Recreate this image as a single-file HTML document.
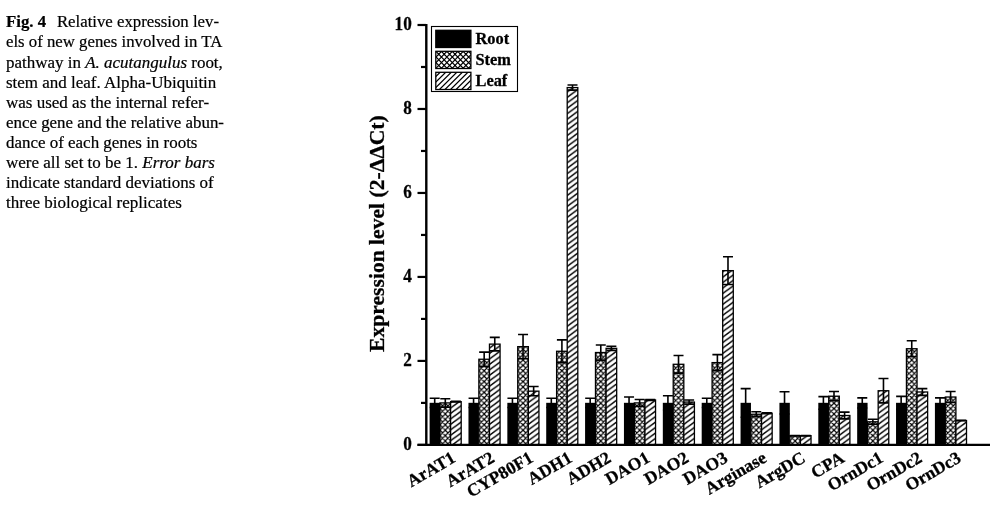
<!DOCTYPE html>
<html><head><meta charset="utf-8"><title>Fig. 4</title>
<style>
html,body{margin:0;padding:0;background:#fff}
body{width:1002px;height:522px;position:relative;overflow:hidden;font-family:"Liberation Serif",serif;color:#000;-webkit-text-stroke:0.2px #000}
.l{position:absolute;left:6.4px;white-space:nowrap;font-size:15.7px;line-height:20px;height:20px;transform-origin:0 0}
.gap{display:inline-block;width:10.15px}
svg text{font-family:"Liberation Serif",serif;font-weight:bold;fill:#000;stroke:#000;stroke-width:0.3px}
.t16{font-size:16.35px}
.t17{font-size:17.6px}
.t18{font-size:18.7px}
.t20{font-size:21.6px}
</style></head><body>
<div class="l" style="top:12.40px;transform:scaleX(1.0691)"><b>Fig. 4</b><span class="gap"></span>Relative expression lev-</div><div class="l" style="top:32.45px;transform:scaleX(1.0688)">els of new genes involved in TA</div><div class="l" style="top:52.50px;transform:scaleX(1.0817)">pathway in <i>A. acutangulus</i> root,</div><div class="l" style="top:72.55px;transform:scaleX(1.0823)">stem and leaf. Alpha-Ubiquitin</div><div class="l" style="top:92.60px;transform:scaleX(1.0836)">was used as the internal refer-</div><div class="l" style="top:112.65px;transform:scaleX(1.0764)">ence gene and the relative abun-</div><div class="l" style="top:132.70px;transform:scaleX(1.0799)">dance of each genes in roots</div><div class="l" style="top:152.75px;transform:scaleX(1.0829)">were all set to be 1. <i>Error bars</i></div><div class="l" style="top:172.80px;transform:scaleX(1.0809)">indicate standard deviations of</div><div class="l" style="top:192.85px;transform:scaleX(1.0852)">three biological replicates</div>
<svg width="1002" height="522" viewBox="0 0 1002 522" style="position:absolute;left:0;top:0;filter:blur(0.3px)">
<defs>
<pattern id="xh" patternUnits="userSpaceOnUse" x="5.3" y="-3.9" width="5.4" height="5.4"><rect width="5.4" height="5.4" fill="#fff"/><path d="M-10.80,10.80 L5.40,-5.40 M-10.80,-5.40 L5.40,10.80 M-5.40,10.80 L10.80,-5.40 M-5.40,-5.40 L10.80,10.80 M0.00,10.80 L16.20,-5.40 M0.00,-5.40 L16.20,10.80" stroke="#000" stroke-width="1.2" fill="none"/></pattern>
<pattern id="dh" patternUnits="userSpaceOnUse" x="0.65" y="0.8" width="7.4" height="5.45"><rect width="7.4" height="5.45" fill="#fff"/><path d="M-14.80,10.90 L7.40,-5.45 M-7.40,10.90 L14.80,-5.45 M0.00,10.90 L22.20,-5.45" stroke="#000" stroke-width="1.4" fill="none"/></pattern>
</defs>
<rect x="429.60" y="402.81" width="10.40" height="42.09" fill="#000"/>
<g transform="translate(440.00,444.9)"><rect x="0" y="-41.99" width="10.60" height="41.99" fill="url(#xh)" stroke="#000" stroke-width="1.3"/></g>
<g transform="translate(450.60,444.9)"><rect x="0" y="-43.25" width="10.60" height="43.25" fill="url(#dh)" stroke="#000" stroke-width="1.3"/></g>
<path d="M434.70,398.29 V407.53 M429.70,398.29 H439.70 M429.70,407.53 H439.70" stroke="#000" stroke-width="1.6" fill="none"/>
<path d="M445.30,398.71 V407.11 M440.30,398.71 H450.30 M440.30,407.11 H450.30" stroke="#000" stroke-width="1.6" fill="none"/>
<path d="M455.90,401.23 V402.07 M450.90,401.23 H460.90 M450.90,402.07 H460.90" stroke="#000" stroke-width="1.6" fill="none"/>
<rect x="468.47" y="402.81" width="10.40" height="42.09" fill="#000"/>
<g transform="translate(478.87,444.9)"><rect x="0" y="-85.66" width="10.60" height="85.66" fill="url(#xh)" stroke="#000" stroke-width="1.3"/></g>
<g transform="translate(489.47,444.9)"><rect x="0" y="-100.78" width="10.60" height="100.78" fill="url(#dh)" stroke="#000" stroke-width="1.3"/></g>
<path d="M473.57,398.29 V407.53 M468.57,398.29 H478.57 M468.57,407.53 H478.57" stroke="#000" stroke-width="1.6" fill="none"/>
<path d="M484.17,352.10 V366.38 M479.17,352.10 H489.17 M479.17,366.38 H489.17" stroke="#000" stroke-width="1.6" fill="none"/>
<path d="M494.77,337.41 V350.84 M489.77,337.41 H499.77 M489.77,350.84 H499.77" stroke="#000" stroke-width="1.6" fill="none"/>
<rect x="507.34" y="402.81" width="10.40" height="42.09" fill="#000"/>
<g transform="translate(517.74,444.9)"><rect x="0" y="-98.26" width="10.60" height="98.26" fill="url(#xh)" stroke="#000" stroke-width="1.3"/></g>
<g transform="translate(528.34,444.9)"><rect x="0" y="-53.75" width="10.60" height="53.75" fill="url(#dh)" stroke="#000" stroke-width="1.3"/></g>
<path d="M512.44,398.29 V407.53 M507.44,398.29 H517.44 M507.44,407.53 H517.44" stroke="#000" stroke-width="1.6" fill="none"/>
<path d="M523.04,334.47 V358.82 M518.04,334.47 H528.04 M518.04,358.82 H528.04" stroke="#000" stroke-width="1.6" fill="none"/>
<path d="M533.64,386.53 V395.77 M528.64,386.53 H538.64 M528.64,395.77 H538.64" stroke="#000" stroke-width="1.6" fill="none"/>
<rect x="546.21" y="402.81" width="10.40" height="42.09" fill="#000"/>
<g transform="translate(556.61,444.9)"><rect x="0" y="-93.64" width="10.60" height="93.64" fill="url(#xh)" stroke="#000" stroke-width="1.3"/></g>
<g transform="translate(567.21,444.9)"><rect x="0" y="-357.33" width="10.60" height="357.33" fill="url(#dh)" stroke="#000" stroke-width="1.3"/></g>
<path d="M551.31,398.29 V407.53 M546.31,398.29 H556.31 M546.31,407.53 H556.31" stroke="#000" stroke-width="1.6" fill="none"/>
<path d="M561.91,339.92 V362.60 M556.91,339.92 H566.91 M556.91,362.60 H566.91" stroke="#000" stroke-width="1.6" fill="none"/>
<path d="M572.51,85.05 V90.08 M567.51,85.05 H577.51 M567.51,90.08 H577.51" stroke="#000" stroke-width="1.6" fill="none"/>
<rect x="585.08" y="402.81" width="10.40" height="42.09" fill="#000"/>
<g transform="translate(595.48,444.9)"><rect x="0" y="-92.38" width="10.60" height="92.38" fill="url(#xh)" stroke="#000" stroke-width="1.3"/></g>
<g transform="translate(606.08,444.9)"><rect x="0" y="-96.58" width="10.60" height="96.58" fill="url(#dh)" stroke="#000" stroke-width="1.3"/></g>
<path d="M590.18,398.29 V407.53 M585.18,398.29 H595.18 M585.18,407.53 H595.18" stroke="#000" stroke-width="1.6" fill="none"/>
<path d="M600.78,344.96 V360.08 M595.78,344.96 H605.78 M595.78,360.08 H605.78" stroke="#000" stroke-width="1.6" fill="none"/>
<path d="M611.38,346.22 V350.42 M606.38,346.22 H616.38 M606.38,350.42 H616.38" stroke="#000" stroke-width="1.6" fill="none"/>
<rect x="623.95" y="402.81" width="10.40" height="42.09" fill="#000"/>
<g transform="translate(634.35,444.9)"><rect x="0" y="-41.99" width="10.60" height="41.99" fill="url(#xh)" stroke="#000" stroke-width="1.3"/></g>
<g transform="translate(644.95,444.9)"><rect x="0" y="-44.93" width="10.60" height="44.93" fill="url(#dh)" stroke="#000" stroke-width="1.3"/></g>
<path d="M629.05,397.03 V408.79 M624.05,397.03 H634.05 M624.05,408.79 H634.05" stroke="#000" stroke-width="1.6" fill="none"/>
<path d="M639.65,399.55 V406.27 M634.65,399.55 H644.65 M634.65,406.27 H644.65" stroke="#000" stroke-width="1.6" fill="none"/>
<path d="M650.25,399.55 V400.39 M645.25,399.55 H655.25 M645.25,400.39 H655.25" stroke="#000" stroke-width="1.6" fill="none"/>
<rect x="662.82" y="402.81" width="10.40" height="42.09" fill="#000"/>
<g transform="translate(673.22,444.9)"><rect x="0" y="-80.62" width="10.60" height="80.62" fill="url(#xh)" stroke="#000" stroke-width="1.3"/></g>
<g transform="translate(683.82,444.9)"><rect x="0" y="-42.83" width="10.60" height="42.83" fill="url(#dh)" stroke="#000" stroke-width="1.3"/></g>
<path d="M667.92,395.77 V410.05 M662.92,395.77 H672.92 M662.92,410.05 H672.92" stroke="#000" stroke-width="1.6" fill="none"/>
<path d="M678.52,355.46 V373.10 M673.52,355.46 H683.52 M673.52,373.10 H683.52" stroke="#000" stroke-width="1.6" fill="none"/>
<path d="M689.12,399.97 V404.17 M684.12,399.97 H694.12 M684.12,404.17 H694.12" stroke="#000" stroke-width="1.6" fill="none"/>
<rect x="701.69" y="402.81" width="10.40" height="42.09" fill="#000"/>
<g transform="translate(712.09,444.9)"><rect x="0" y="-82.30" width="10.60" height="82.30" fill="url(#xh)" stroke="#000" stroke-width="1.3"/></g>
<g transform="translate(722.69,444.9)"><rect x="0" y="-174.26" width="10.60" height="174.26" fill="url(#dh)" stroke="#000" stroke-width="1.3"/></g>
<path d="M706.79,398.29 V407.53 M701.79,398.29 H711.79 M701.79,407.53 H711.79" stroke="#000" stroke-width="1.6" fill="none"/>
<path d="M717.39,354.62 V370.58 M712.39,354.62 H722.39 M712.39,370.58 H722.39" stroke="#000" stroke-width="1.6" fill="none"/>
<path d="M727.99,256.78 V284.50 M722.99,256.78 H732.99 M722.99,284.50 H732.99" stroke="#000" stroke-width="1.6" fill="none"/>
<rect x="740.56" y="402.81" width="10.40" height="42.09" fill="#000"/>
<g transform="translate(750.96,444.9)"><rect x="0" y="-30.65" width="10.60" height="30.65" fill="url(#xh)" stroke="#000" stroke-width="1.3"/></g>
<g transform="translate(761.56,444.9)"><rect x="0" y="-31.70" width="10.60" height="31.70" fill="url(#dh)" stroke="#000" stroke-width="1.3"/></g>
<path d="M745.66,388.63 V417.19 M740.66,388.63 H750.66 M740.66,417.19 H750.66" stroke="#000" stroke-width="1.6" fill="none"/>
<path d="M756.26,411.73 V416.77 M751.26,411.73 H761.26 M751.26,416.77 H761.26" stroke="#000" stroke-width="1.6" fill="none"/>
<path d="M766.86,412.78 V413.62 M761.86,412.78 H771.86 M761.86,413.62 H771.86" stroke="#000" stroke-width="1.6" fill="none"/>
<rect x="779.43" y="402.81" width="10.40" height="42.09" fill="#000"/>
<g transform="translate(789.83,444.9)"><rect x="0" y="-9.24" width="10.60" height="9.24" fill="url(#xh)" stroke="#000" stroke-width="1.3"/></g>
<g transform="translate(800.43,444.9)"><rect x="0" y="-9.24" width="10.60" height="9.24" fill="url(#dh)" stroke="#000" stroke-width="1.3"/></g>
<path d="M784.53,391.78 V414.04 M779.53,391.78 H789.53 M779.53,414.04 H789.53" stroke="#000" stroke-width="1.6" fill="none"/>
<path d="M795.13,435.49 V435.83 M790.13,435.49 H800.13 M790.13,435.83 H800.13" stroke="#000" stroke-width="1.6" fill="none"/>
<path d="M805.73,435.49 V435.83 M800.73,435.49 H810.73 M800.73,435.83 H810.73" stroke="#000" stroke-width="1.6" fill="none"/>
<rect x="818.30" y="402.81" width="10.40" height="42.09" fill="#000"/>
<g transform="translate(828.70,444.9)"><rect x="0" y="-48.71" width="10.60" height="48.71" fill="url(#xh)" stroke="#000" stroke-width="1.3"/></g>
<g transform="translate(839.30,444.9)"><rect x="0" y="-29.39" width="10.60" height="29.39" fill="url(#dh)" stroke="#000" stroke-width="1.3"/></g>
<path d="M823.40,396.61 V409.21 M818.40,396.61 H828.40 M818.40,409.21 H828.40" stroke="#000" stroke-width="1.6" fill="none"/>
<path d="M834.00,391.57 V400.81 M829.00,391.57 H839.00 M829.00,400.81 H839.00" stroke="#000" stroke-width="1.6" fill="none"/>
<path d="M844.60,412.15 V418.87 M839.60,412.15 H849.60 M839.60,418.87 H849.60" stroke="#000" stroke-width="1.6" fill="none"/>
<rect x="857.17" y="402.81" width="10.40" height="42.09" fill="#000"/>
<g transform="translate(867.57,444.9)"><rect x="0" y="-23.09" width="10.60" height="23.09" fill="url(#xh)" stroke="#000" stroke-width="1.3"/></g>
<g transform="translate(878.17,444.9)"><rect x="0" y="-54.17" width="10.60" height="54.17" fill="url(#dh)" stroke="#000" stroke-width="1.3"/></g>
<path d="M862.27,397.87 V407.95 M857.27,397.87 H867.27 M857.27,407.95 H867.27" stroke="#000" stroke-width="1.6" fill="none"/>
<path d="M872.87,419.29 V424.32 M867.87,419.29 H877.87 M867.87,424.32 H877.87" stroke="#000" stroke-width="1.6" fill="none"/>
<path d="M883.47,378.56 V402.91 M878.47,378.56 H888.47 M878.47,402.91 H888.47" stroke="#000" stroke-width="1.6" fill="none"/>
<rect x="896.04" y="402.81" width="10.40" height="42.09" fill="#000"/>
<g transform="translate(906.44,444.9)"><rect x="0" y="-96.16" width="10.60" height="96.16" fill="url(#xh)" stroke="#000" stroke-width="1.3"/></g>
<g transform="translate(917.04,444.9)"><rect x="0" y="-52.91" width="10.60" height="52.91" fill="url(#dh)" stroke="#000" stroke-width="1.3"/></g>
<path d="M901.14,396.40 V409.42 M896.14,396.40 H906.14 M896.14,409.42 H906.14" stroke="#000" stroke-width="1.6" fill="none"/>
<path d="M911.74,340.76 V356.72 M906.74,340.76 H916.74 M906.74,356.72 H916.74" stroke="#000" stroke-width="1.6" fill="none"/>
<path d="M922.34,388.63 V395.35 M917.34,388.63 H927.34 M917.34,395.35 H927.34" stroke="#000" stroke-width="1.6" fill="none"/>
<rect x="934.91" y="402.81" width="10.40" height="42.09" fill="#000"/>
<g transform="translate(945.31,444.9)"><rect x="0" y="-47.87" width="10.60" height="47.87" fill="url(#xh)" stroke="#000" stroke-width="1.3"/></g>
<g transform="translate(955.91,444.9)"><rect x="0" y="-24.35" width="10.60" height="24.35" fill="url(#dh)" stroke="#000" stroke-width="1.3"/></g>
<path d="M940.01,397.87 V407.95 M935.01,397.87 H945.01 M935.01,407.95 H945.01" stroke="#000" stroke-width="1.6" fill="none"/>
<path d="M950.61,391.57 V402.49 M945.61,391.57 H955.61 M945.61,402.49 H955.61" stroke="#000" stroke-width="1.6" fill="none"/>
<path d="M961.21,420.38 V420.71 M956.21,420.38 H966.21 M956.21,420.71 H966.21" stroke="#000" stroke-width="1.6" fill="none"/>
<path d="M426.3,24.00 V446.00" stroke="#000" stroke-width="2.4" fill="none"/>
<path d="M417.5,444.9 H990" stroke="#000" stroke-width="2.2" fill="none"/>
<path d="M417.5,444.90 H426.3" stroke="#000" stroke-width="2.2"/>
<text transform="translate(411.8,449.80) scale(0.92,1)" text-anchor="end" class="t18">0</text>
<path d="M421,402.91 H426.3" stroke="#000" stroke-width="2.2"/>
<path d="M417.5,360.92 H426.3" stroke="#000" stroke-width="2.2"/>
<text transform="translate(411.8,365.82) scale(0.92,1)" text-anchor="end" class="t18">2</text>
<path d="M421,318.93 H426.3" stroke="#000" stroke-width="2.2"/>
<path d="M417.5,276.94 H426.3" stroke="#000" stroke-width="2.2"/>
<text transform="translate(411.8,281.84) scale(0.92,1)" text-anchor="end" class="t18">4</text>
<path d="M421,234.95 H426.3" stroke="#000" stroke-width="2.2"/>
<path d="M417.5,192.96 H426.3" stroke="#000" stroke-width="2.2"/>
<text transform="translate(411.8,197.86) scale(0.92,1)" text-anchor="end" class="t18">6</text>
<path d="M421,150.97 H426.3" stroke="#000" stroke-width="2.2"/>
<path d="M417.5,108.98 H426.3" stroke="#000" stroke-width="2.2"/>
<text transform="translate(411.8,113.88) scale(0.92,1)" text-anchor="end" class="t18">8</text>
<path d="M421,66.99 H426.3" stroke="#000" stroke-width="2.2"/>
<path d="M417.5,25.00 H426.3" stroke="#000" stroke-width="2.2"/>
<text transform="translate(411.8,29.90) scale(0.92,1)" text-anchor="end" class="t18">10</text>
<text transform="translate(384,233.6) rotate(-90)" text-anchor="middle" class="t20">Expression level (2-ΔΔCt)</text>
<rect x="431.5" y="26.5" width="86" height="65" fill="#fff" stroke="#000" stroke-width="1.1"/>
<rect x="435.8" y="30.30" width="35.1" height="17.2" fill="#000" stroke="#000" stroke-width="1.3"/>
<text x="475.5" y="44.00" class="t16">Root</text>
<clipPath id="lc1"><rect x="435.8" y="51.30" width="35.1" height="17.2"/></clipPath>
<path d="M433.80,9.92 L472.90,50.24 M433.80,15.52 L472.90,55.84 M433.80,21.12 L472.90,61.44 M433.80,26.72 L472.90,67.04 M433.80,32.32 L472.90,72.64 M433.80,37.92 L472.90,78.24 M433.80,43.52 L472.90,83.84 M433.80,53.68 L472.90,13.36 M433.80,49.12 L472.90,89.44 M433.80,59.28 L472.90,18.96 M433.80,54.72 L472.90,95.04 M433.80,64.88 L472.90,24.56 M433.80,60.32 L472.90,100.64 M433.80,70.48 L472.90,30.16 M433.80,65.92 L472.90,106.24 M433.80,76.08 L472.90,35.76 M433.80,81.68 L472.90,41.36 M433.80,87.28 L472.90,46.96 M433.80,92.88 L472.90,52.56 M433.80,98.48 L472.90,58.16 M433.80,104.08 L472.90,63.76 M433.80,109.68 L472.90,69.36" clip-path="url(#lc1)" stroke="#000" stroke-width="1.2" fill="none"/>
<rect x="435.8" y="51.30" width="35.1" height="17.2" fill="none" stroke="#000" stroke-width="1.3"/>
<text x="475.5" y="65.00" class="t16">Stem</text>
<clipPath id="lc2"><rect x="435.8" y="72.30" width="35.1" height="17.2"/></clipPath>
<path d="M433.80,73.08 L472.90,34.33 M433.80,78.58 L472.90,39.83 M433.80,84.08 L472.90,45.33 M433.80,89.58 L472.90,50.83 M433.80,95.08 L472.90,56.33 M433.80,100.58 L472.90,61.83 M433.80,106.08 L472.90,67.33 M433.80,111.58 L472.90,72.83 M433.80,117.08 L472.90,78.33 M433.80,122.58 L472.90,83.83 M433.80,128.08 L472.90,89.33" clip-path="url(#lc2)" stroke="#000" stroke-width="1.25" fill="none"/>
<rect x="435.8" y="72.30" width="35.1" height="17.2" fill="none" stroke="#000" stroke-width="1.3"/>
<text x="475.5" y="86.00" class="t16">Leaf</text>
<text transform="translate(456.70,461.20) rotate(-30)" text-anchor="end" class="t17">ArAT1</text>
<text transform="translate(495.57,461.20) rotate(-30)" text-anchor="end" class="t17">ArAT2</text>
<text transform="translate(534.44,461.20) rotate(-30)" text-anchor="end" class="t17">CYP80F1</text>
<text transform="translate(573.31,461.20) rotate(-30)" text-anchor="end" class="t17">ADH1</text>
<text transform="translate(612.18,461.20) rotate(-30)" text-anchor="end" class="t17">ADH2</text>
<text transform="translate(651.05,461.20) rotate(-30)" text-anchor="end" class="t17">DAO1</text>
<text transform="translate(689.92,461.20) rotate(-30)" text-anchor="end" class="t17">DAO2</text>
<text transform="translate(728.79,461.20) rotate(-30)" text-anchor="end" class="t17">DAO3</text>
<text transform="translate(767.66,461.20) rotate(-30)" text-anchor="end" class="t17">Arginase</text>
<text transform="translate(806.53,461.20) rotate(-30)" text-anchor="end" class="t17">ArgDC</text>
<text transform="translate(845.40,461.20) rotate(-30)" text-anchor="end" class="t17">CPA</text>
<text transform="translate(884.27,461.20) rotate(-30)" text-anchor="end" class="t17">OrnDc1</text>
<text transform="translate(923.14,461.20) rotate(-30)" text-anchor="end" class="t17">OrnDc2</text>
<text transform="translate(962.01,461.20) rotate(-30)" text-anchor="end" class="t17">OrnDc3</text>
</svg>
</body></html>
